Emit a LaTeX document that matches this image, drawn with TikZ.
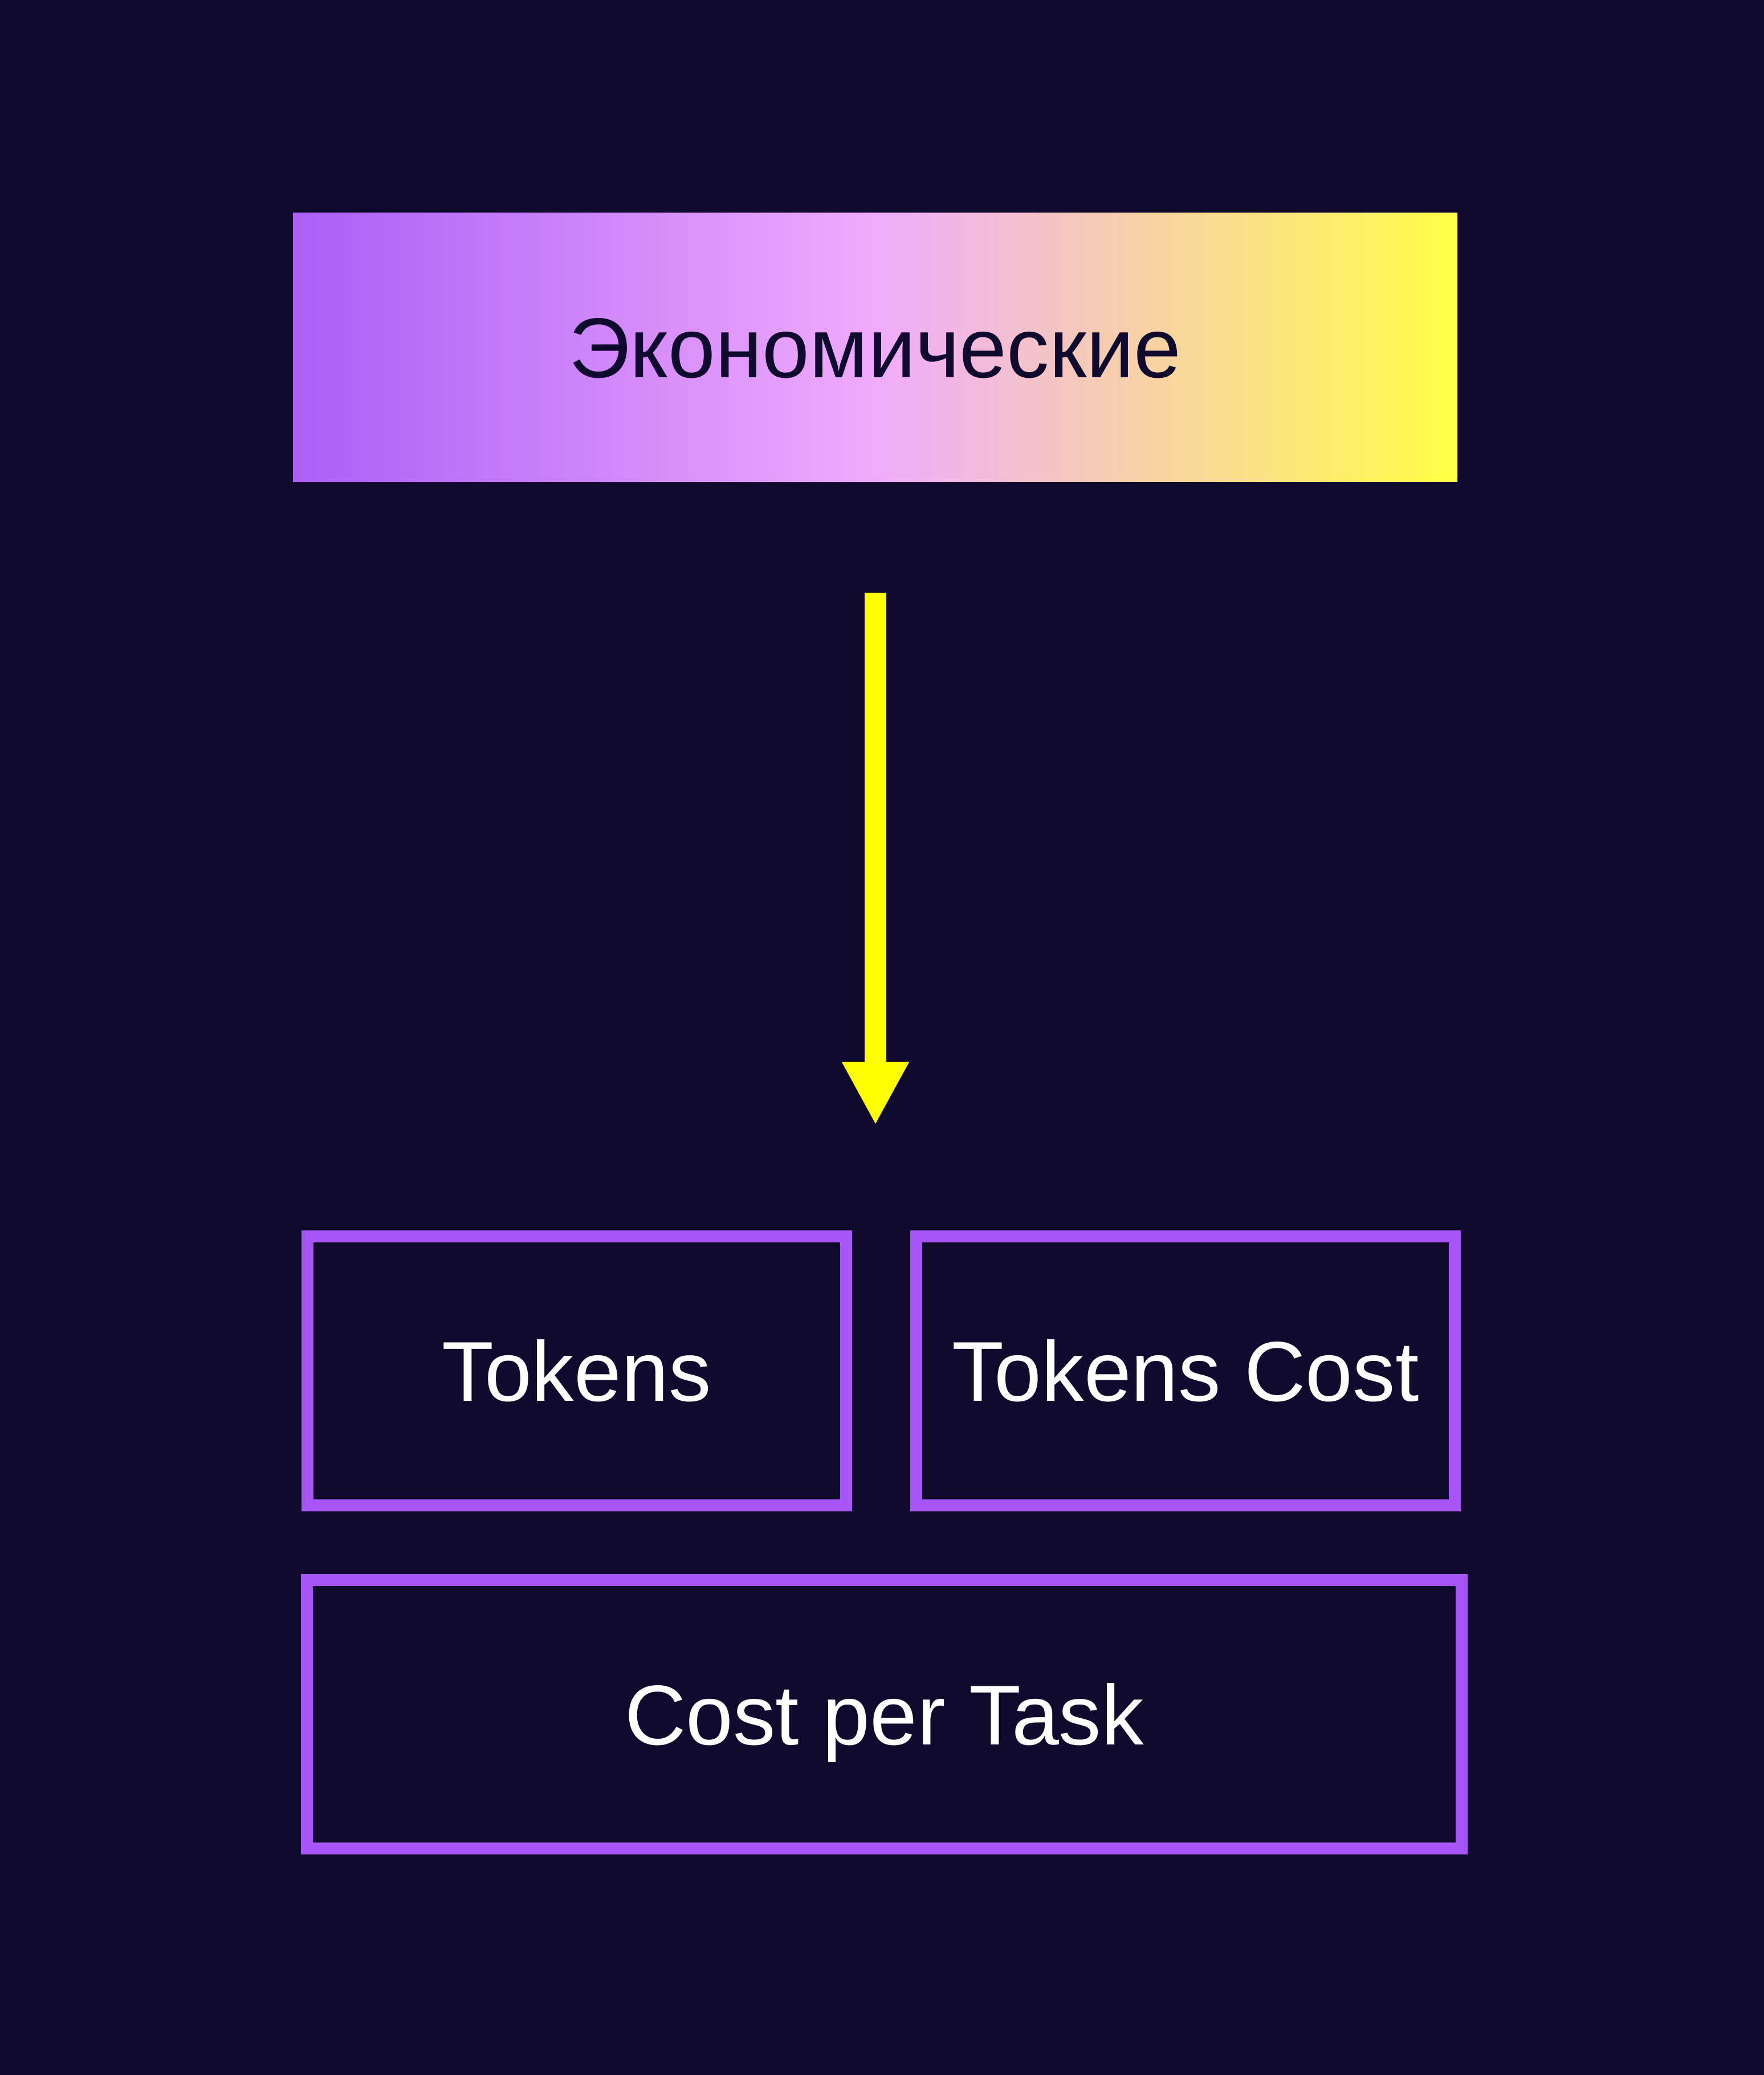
\documentclass[tikz,border=0pt]{standalone}
\usepackage{fontspec}
\setmainfont{Liberation Sans}
\usetikzlibrary{arrows.meta}

\definecolor{bgnight}{HTML}{100A2E}
\definecolor{boxpurple}{HTML}{A855F7}
\definecolor{gradpink}{HTML}{F0ABFC}
\definecolor{gradyellow}{HTML}{FFFF44}
\definecolor{arrowyellow}{HTML}{FFFF00}

\begin{document}
\begin{tikzpicture}[x=1pt,y=-1pt,
  label/.style={font=\fontsize{14.9pt}{17pt}\selectfont,
    text height=10.65pt,text depth=0pt,inner sep=0pt},
  metricbox/.style={label,draw=boxpurple,line width=2.1pt,text=white,
    minimum width=94.5pt,minimum height=47.2pt},
  widebox/.style={metricbox,minimum width=202.6pt,minimum height=47.15pt},
  headbox/.style={label,text=bgnight,left color=boxpurple!95!white,
    right color=gradyellow,middle color=gradpink,
    minimum width=204.3pt,minimum height=47.2pt}]

\fill[bgnight] (0,0) rectangle (309.5,364.1);
\useasboundingbox (0,0) rectangle (309.5,364.1);

\node[headbox] (econ) at (153.55,60.9) {Экономические};

\coordinate (flowtop) at (153.6,104.0);
\coordinate (flowtip) at (153.6,197.4);
\draw[arrowyellow,line width=3.8pt,-{Triangle[width=11pt,length=11.1pt]}]
  (flowtop) -- (flowtip);

\node[metricbox] (tokens) at (101.15,240.5) {Tokens};
\node[metricbox] (tokcost) at (208.0,240.5) {Tokens Cost};
\node[widebox] (costtask) at (155.15,300.8) {Cost per Task};

\end{tikzpicture}
\end{document}
